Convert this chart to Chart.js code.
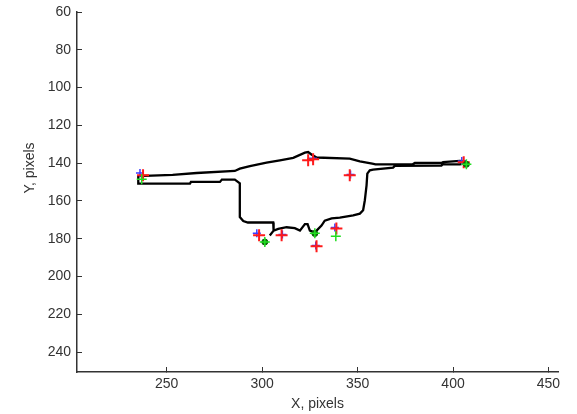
<!DOCTYPE html>
<html>
<head>
<meta charset="utf-8">
<script src="https://cdn.jsdelivr.net/npm/chart.js@4.4.0/dist/chart.umd.min.js"></script>
<style>
  html, body { margin: 0; padding: 0; background: #fff; }
  #wrap { width: 577px; height: 414px; }
</style>
</head>
<body>
<div id="wrap"><canvas id="chart"></canvas></div>
<script>
// axis ticks
var xTicks = [250, 300, 350, 400, 450];
var yTicks = [60, 80, 100, 120, 140, 160, 180, 200, 220, 240];

// traced outline (x, y in pixels)
var outlineX = [304.0, 306.0, 308.4, 312.8, 317.1, 319.8, 322.4, 323.8, 325.0, 327.6,
  331.1, 332.8, 336.4, 340.7, 347.7, 351.2, 352.9, 353.8, 354.7, 355.1, 356.4, 358.1,
  368.6, 369.5, 393.9, 394.6, 403.5, 406.7, 406.7, 403.5, 394.8, 393.9, 380.0, 378.9,
  359.4, 357.7, 351.2, 345.9, 328.5, 325.8, 324.1, 322.4, 316.3, 309.3, 302.3, 293.6,
  288.3, 285.7, 265.7, 253.1, 235.1, 235.1, 262.2, 262.7, 277.9, 278.9, 285.7, 288.3,
  288.3, 290.1, 292.5, 305.8, 306.0];
var outlineY = [178.3, 175.7, 174.8, 173.9, 174.4, 175.7, 172.2, 172.2, 175.7, 176.6,
  173.0, 170.4, 169.2, 168.8, 167.6, 166.7, 164.9, 159.6, 151.7, 145.5, 143.8, 143.4,
  142.3, 141.4, 141.3, 140.6, 140.6, 140.1, 139.0, 138.8, 139.4, 139.9, 139.9, 140.6,
  140.6, 140.2, 139.0, 137.6, 137.0, 135.4, 134.1, 134.4, 137.2, 138.5, 139.7, 141.5,
  142.9, 144.1, 145.2, 146.2, 146.8, 150.8, 150.8, 149.9, 149.9, 148.7, 148.7, 150.6,
  168.5, 170.6, 171.4, 171.4, 175.7];

// red markers
var redX = [237.6, 324.1, 326.7, 345.9, 405.6, 298.4, 310.2, 328.5, 338.9];
var redY = [146.4, 138.5, 137.9, 146.4, 139.5, 178.1, 178.1, 184.0, 174.6];

// blue markers
var blueX = [236.0, 326.6, 346.3, 404.6, 297.2, 310.6, 328.1, 338.1];
var blueY = [145.2, 137.4, 146.0, 138.9, 177.1, 177.8, 183.5, 174.1];

// green markers
var greenX = [236.9, 301.4, 327.6, 338.6, 407.0];
var greenY = [148.5, 181.7, 177.1, 178.7, 140.6];

// green circles
var circX = [301.4, 327.6, 407.0];
var circY = [181.7, 177.2, 140.6];

function pts(xs, ys) {
    return xs.map(function (x, i) { return { x: x, y: ys[i] }; });
}

var axisColor = '#333333';
var font = { family: '"Liberation Sans", Arial, sans-serif', size: 14 };

// y axis label sits a bit above the middle, like the original figure
var yLabelPlugin = {
    id: 'yLabel',
    afterDraw: function (chart) {
        var c = chart.ctx;
        c.save();
        c.translate(30, 168);
        c.rotate(-Math.PI / 2);
        c.font = '14px "Liberation Sans", Arial, sans-serif';
        c.fillStyle = '#333333';
        c.textAlign = 'center';
        c.textBaseline = 'middle';
        c.fillText('Y, pixels', 0, 0);
        c.restore();
    }
};

var ctx = document.getElementById('chart').getContext('2d');

var chart = new Chart(ctx, {
    type: 'scatter',
    data: {
        datasets: [
            {
                label: 'outline',
                data: pts(outlineX, outlineY),
                showLine: true,
                borderColor: '#000000',
                borderWidth: 2.3,
                pointRadius: 0,
                tension: 0,
                order: 5
            },
            {
                label: 'blue',
                data: pts(blueX, blueY),
                pointStyle: 'cross',
                pointRadius: 4,
                borderColor: '#3b3bff',
                borderWidth: 1.5,
                order: 4
            },
            {
                label: 'red',
                data: pts(redX, redY),
                pointStyle: 'cross',
                pointRadius: 6,
                borderColor: '#ff1a1a',
                borderWidth: 2,
                order: 3
            },
            {
                label: 'circles',
                data: pts(circX, circY),
                pointStyle: 'circle',
                pointRadius: 3,
                backgroundColor: '#0b7a0b',
                borderColor: '#0b5a0b',
                borderWidth: 1,
                order: 2
            },
            {
                label: 'green',
                data: pts(greenX, greenY),
                pointStyle: 'cross',
                pointRadius: 5,
                borderColor: '#22dd22',
                borderWidth: 1.5,
                order: 1
            }
        ]
    },
    options: {
        responsive: true,
        maintainAspectRatio: false,
        animation: false,
        devicePixelRatio: 1,
        layout: { padding: { top: 0, right: 19, bottom: 0, left: 0 } },
        plugins: {
            legend: { display: false },
            tooltip: { enabled: false }
        },
        scales: {
            x: {
                type: 'linear',
                min: 203,
                max: 455,
                afterBuildTicks: function (scale) {
                    scale.ticks = xTicks.map(function (v) { return { value: v }; });
                },
                afterFit: function (scale) { scale.height = 42; },
                grid: { drawOnChartArea: false, tickLength: -5, color: axisColor, lineWidth: 1 },
                border: { display: true, color: axisColor, width: 1.5 },
                ticks: { color: '#333333', font: font, padding: 9, maxRotation: 0 },
                title: { display: true, text: 'X, pixels', color: '#333333', font: font, padding: { top: 0, bottom: 1 } }
            },
            y: {
                type: 'linear',
                reverse: true,
                min: 60,
                max: 250.5,
                afterBuildTicks: function (scale) {
                    scale.ticks = yTicks.map(function (v) { return { value: v }; });
                },
                afterFit: function (scale) {
                    scale.width = 77;
                    scale.paddingTop = 12;
                    scale.paddingBottom = 0;
                },
                grid: { drawOnChartArea: false, tickLength: -5, color: axisColor, lineWidth: 1 },
                border: { display: true, color: axisColor, width: 1.5 },
                ticks: { color: '#333333', font: font, padding: 11 }
            }
        }
    },
    plugins: [yLabelPlugin]
});
</script>
</body>
</html>
